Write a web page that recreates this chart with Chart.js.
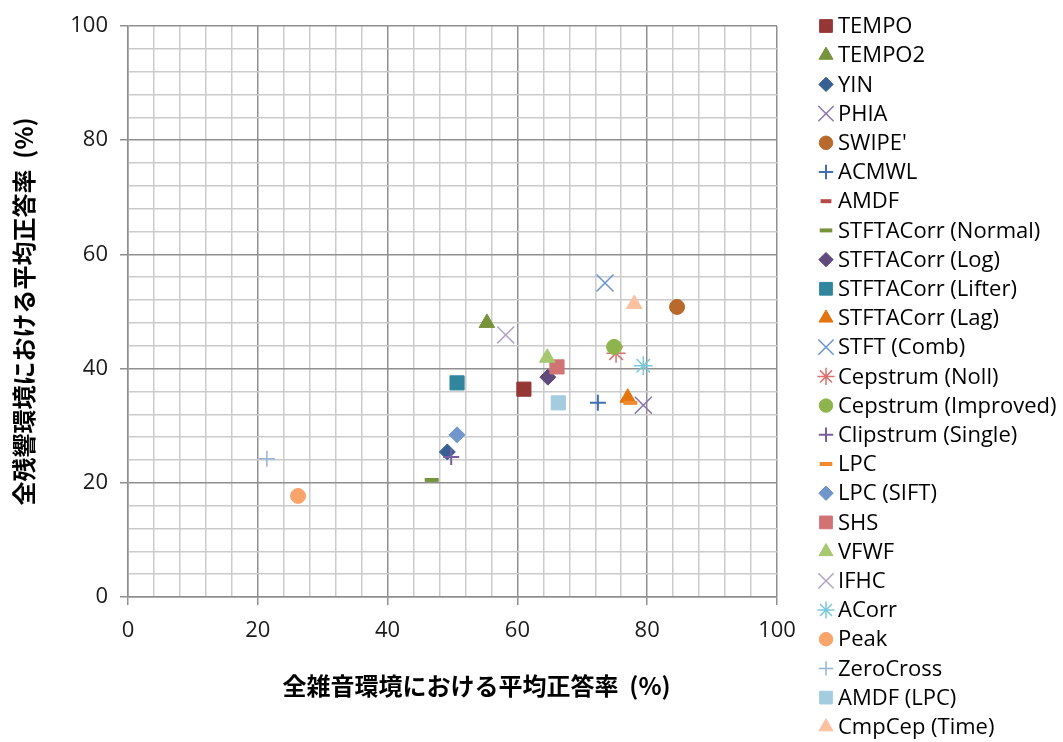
<!DOCTYPE html>
<html>
<head>
<meta charset="utf-8">
<script src="https://cdn.jsdelivr.net/npm/chart.js@4/dist/chart.umd.min.js"></script>
<style>
    html, body { margin: 0; padding: 0; background: #ffffff; }
    #wrap { width: 1063px; height: 742px; }
</style>
</head>
<body>
<div id="wrap"><canvas id="scatterChart"></canvas></div>
<script>
// Method names (legend order = drawing order)
const methods = [
    'TEMPO', 'TEMPO2', 'YIN', 'PHIA', "SWIPE'", 'ACMWL', 'AMDF',
    'STFTACorr (Normal)', 'STFTACorr (Log)', 'STFTACorr (Lifter)', 'STFTACorr (Lag)',
    'STFT (Comb)', 'Cepstrum (Noll)', 'Cepstrum (Improved)', 'Clipstrum (Single)',
    'LPC', 'LPC (SIFT)', 'SHS', 'VFWF', 'IFHC', 'ACorr', 'Peak', 'ZeroCross',
    'AMDF (LPC)', 'CmpCep (Time)'
];

// Average accuracy under all noise conditions (%)
const noiseAccuracy = [
    61.0, 55.3, 49.2, 79.4, 84.6, 72.4, 50.7,
    46.8, 64.7, 50.7, 77.0,
    73.5, 75.2, 74.9, 49.8,
    77.4, 50.7, 66.1, 64.6, 58.2, 79.4, 26.2, 21.4,
    66.3, 78.0
];

// Average accuracy under all reverberation conditions (%)
const reverbAccuracy = [
    36.4, 48.0, 25.4, 33.6, 50.8, 34.0, 37.5,
    20.5, 38.5, 37.5, 34.9,
    55.0, 42.7, 43.8, 24.5,
    34.0, 28.4, 40.3, 41.9, 45.9, 40.5, 17.7, 24.2,
    34.0, 51.3
];

const axisTicks = [0, 20, 40, 60, 80, 100];

// marker look per method: [style, radius, fill/line colour, line width]
const markerStyles = [
    ['rect', 10, '#953735', 1], ['triangle', 9, '#77933C', 1], ['rectRot', 8, '#376092', 1],
    ['crossRot', 12, '#8B76AE', 1.5], ['circle', 7.5, '#B8692B', 1], ['cross', 8, '#3F6FB0', 2],
    ['line', 6, '#B64A47', 4],
    ['line', 7, '#77933C', 4], ['rectRot', 8, '#604A7B', 1], ['rect', 10, '#31859C', 1],
    ['triangle', 9, '#E4740F', 1],
    ['crossRot', 12, '#6A94CF', 1.5], ['star', 9.5, '#D9716E', 1.5], ['circle', 7.5, '#8EB44E', 1],
    ['cross', 8, '#7B5EA0', 2],
    ['line', 7, '#F08A2E', 4], ['rectRot', 8, '#7096CC', 1], ['rect', 10, '#D07372', 1],
    ['triangle', 9, '#A7C770', 1], ['crossRot', 12, '#B3A2C7', 1.5], ['star', 9.5, '#7ACADD', 1.5],
    ['circle', 7.5, '#F9A46A', 1], ['cross', 8, '#95B3D7', 1.5],
    ['rect', 10, '#A3CCDF', 1], ['triangle', 9, '#FAC0A0', 1]
];

const datasets = methods.map((name, i) => {
    const [style, radius, color, width] = markerStyles[i];
    return {
        label: name,
        data: [{ x: noiseAccuracy[i], y: reverbAccuracy[i] }],
        pointStyle: style,
        pointRadius: radius,
        pointHoverRadius: radius,
        backgroundColor: color,
        borderColor: color,
        borderWidth: width,
        order: methods.length - i // later series on top, like the original
    };
});

const LEGEND_X = 826;
const LEGEND_TOP = 26;
const LEGEND_STEP = 29.2;

const sideLegend = {
    id: 'sideLegend',
    afterDraw(chart) {
        const ctx = chart.ctx;
        chart.data.datasets.forEach((ds, i) => {
            const y = LEGEND_TOP + i * LEGEND_STEP;
            ctx.save();
            ctx.fillStyle = ds.backgroundColor;
            ctx.strokeStyle = ds.borderColor;
            ctx.lineWidth = ds.borderWidth;
            Chart.helpers.drawPoint(ctx, {
                pointStyle: ds.pointStyle,
                radius: ds.pointRadius * 0.9,
                rotation: 0,
                borderWidth: ds.borderWidth
            }, LEGEND_X, y);
            ctx.fillStyle = '#000000';
            ctx.font = '22px "Open Sans"';
            ctx.textBaseline = 'middle';
            ctx.textAlign = 'left';
            ctx.fillText(ds.label, 838, y + 1);
            ctx.restore();
        });
    }
};

const isMajor = v => axisTicks.includes(v);
const gridOptions = {
    color: c => isMajor(c.tick.value) ? '#8f8f8f' : '#cbcbcb',
    tickColor: c => isMajor(c.tick.value) ? '#8f8f8f' : 'rgba(0,0,0,0)',
    lineWidth: 1.5,
    tickLength: 8
};
const tickFont = { family: '"Open Sans"', size: 22 };

new Chart(document.getElementById('scatterChart'), {
    type: 'scatter',
    data: { datasets },
    plugins: [sideLegend],
    options: {
        responsive: true,
        maintainAspectRatio: false,
        animation: false,
        layout: { padding: { top: 26, right: 286, bottom: 0, left: 0 } },
        scales: {
            x: {
                type: 'linear',
                min: 0,
                max: 100,
                afterFit: scale => { scale.height = 145; },
                grid: gridOptions,
                border: { color: '#8f8f8f', width: 1.5 },
                ticks: {
                    stepSize: 4,
                    autoSkip: false,
                    maxRotation: 0,
                    padding: 13,
                    color: '#1a1a1a',
                    font: tickFont,
                    callback: v => isMajor(v) ? v : ''
                },
                title: {
                    display: true,
                    text: '　　全雑音環境における平均正答率  (%)',
                    color: '#000000',
                    font: { family: '"Noto Sans CJK JP"', size: 24, weight: 'bold' },
                    padding: { top: 4, bottom: 42 }
                }
            },
            y: {
                type: 'linear',
                min: 0,
                max: 100,
                afterFit: scale => { scale.width = 128; },
                grid: gridOptions,
                border: { color: '#8f8f8f', width: 1.5 },
                ticks: {
                    stepSize: 4,
                    autoSkip: false,
                    padding: 12,
                    color: '#1a1a1a',
                    font: tickFont,
                    callback: v => isMajor(v) ? v : ''
                },
                title: {
                    display: true,
                    text: '全残響環境における平均正答率  (%)',
                    color: '#000000',
                    font: { family: '"Noto Sans CJK JP"', size: 24, weight: 'bold' },
                    padding: { top: 9, bottom: 4 }
                }
            }
        },
        plugins: {
            legend: { display: false },
            tooltip: { enabled: false }
        }
    }
});
</script>
</body>
</html>
